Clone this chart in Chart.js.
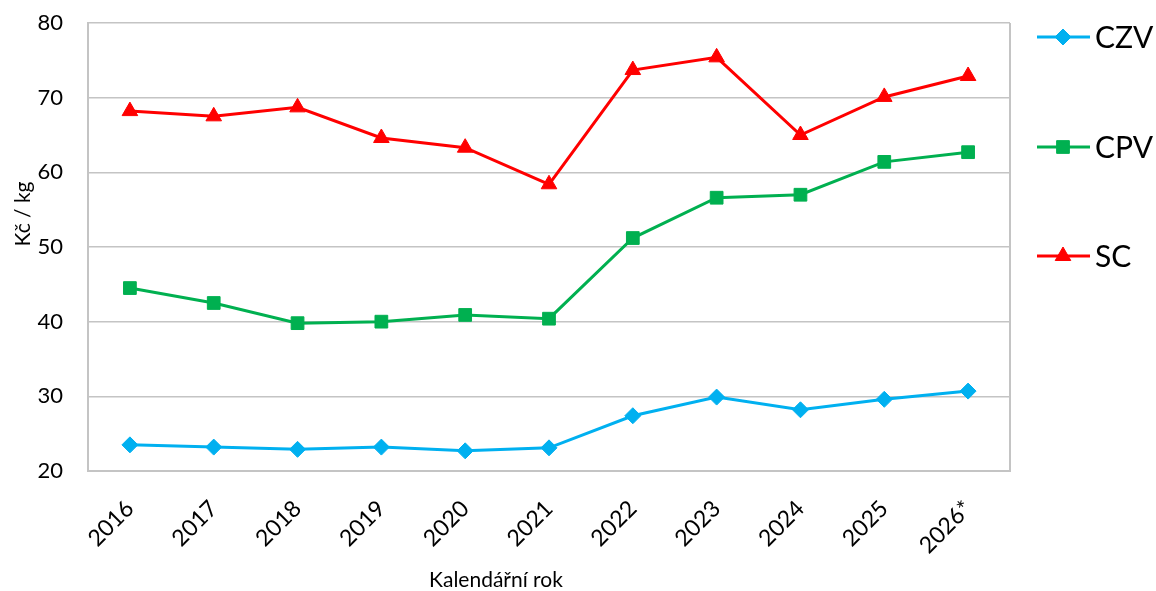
<!DOCTYPE html>
<html>
<head>
<meta charset="utf-8">
<script src="https://cdn.jsdelivr.net/npm/chart.js@4"></script>
<style>
  html, body { margin: 0; padding: 0; background: #fff; }
  #wrap { width: 1156px; height: 591px; }
</style>
</head>
<body>
<div id="wrap"><canvas id="chart"></canvas></div>
<script>
// Data
const years = ['2016', '2017', '2018', '2019', '2020', '2021', '2022', '2023', '2024', '2025', '2026*'];
const czv = [23.5, 23.2, 22.9, 23.2, 22.7, 23.1, 27.4, 29.9, 28.2, 29.6, 30.7];
const cpv = [44.5, 42.5, 39.8, 40.0, 40.9, 40.4, 51.2, 56.6, 57.0, 61.4, 62.7];
const sc = [68.2, 67.5, 68.7, 64.6, 63.3, 58.4, 73.7, 75.4, 65.0, 70.1, 72.9];
const yTicks = [20, 30, 40, 50, 60, 70, 80];

const FONT = 'Lato, "Open Sans", sans-serif';
const gridColor = '#c4c4c4';

// Plot frame, axis titles and the spaced-out legend on the right
const extras = {
    id: 'extras',
    afterDraw(chart) {
        const ctx = chart.ctx;
        const a = chart.chartArea;
        ctx.save();

        // right edge of the plot frame
        ctx.strokeStyle = gridColor;
        ctx.lineWidth = 2;
        ctx.beginPath();
        ctx.moveTo(a.right, a.top);
        ctx.lineTo(a.right, a.bottom);
        ctx.stroke();

        // axis titles
        ctx.fillStyle = '#000';
        ctx.font = '21px ' + FONT;
        ctx.textAlign = 'center';
        ctx.textBaseline = 'middle';
        ctx.fillText('Kalendářní rok', 496, 580);
        ctx.translate(23, 214);
        ctx.rotate(-Math.PI / 2);
        ctx.fillText('Kč / kg', 0, 0);
        ctx.setTransform(1, 0, 0, 1, 0, 0);

        // legend
        const rows = [37, 147, 256];
        chart.data.datasets.forEach((ds, i) => {
            const y = rows[i];
            ctx.strokeStyle = ds.borderColor;
            ctx.lineWidth = 3;
            ctx.beginPath();
            ctx.moveTo(1037, y);
            ctx.lineTo(1090, y);
            ctx.stroke();
            ctx.fillStyle = ds.backgroundColor;
            ctx.lineWidth = 1;
            Chart.helpers.drawPoint(ctx, {
                pointStyle: ds.pointStyle,
                radius: ds.pointRadius,
                rotation: 0,
                borderWidth: 1
            }, 1063, y);
            ctx.fillStyle = '#000';
            ctx.font = '30px ' + FONT;
            ctx.textAlign = 'left';
            ctx.textBaseline = 'middle';
            ctx.fillText(ds.label, 1095, y + 1);
        });
        ctx.restore();
    }
};

new Chart(document.getElementById('chart'), {
    type: 'line',
    data: {
        labels: years,
        datasets: [{
            label: 'CZV',
            data: czv,
            borderColor: '#00b0f0',
            backgroundColor: '#00b0f0',
            borderWidth: 3,
            pointStyle: 'rectRot',
            pointRadius: 8,
            pointBorderWidth: 1
        }, {
            label: 'CPV',
            data: cpv,
            borderColor: '#00b050',
            backgroundColor: '#00b050',
            borderWidth: 3,
            pointStyle: 'rect',
            pointRadius: 9,
            pointBorderWidth: 1
        }, {
            label: 'SC',
            data: sc,
            borderColor: '#ff0000',
            backgroundColor: '#ff0000',
            borderWidth: 3,
            pointStyle: 'triangle',
            pointRadius: 9,
            pointBorderWidth: 1
        }]
    },
    options: {
        responsive: true,
        maintainAspectRatio: false,
        animation: false,
        layout: { padding: { top: 23, right: 146, left: 0, bottom: 0 } },
        plugins: {
            legend: { display: false },
            tooltip: { enabled: false }
        },
        scales: {
            x: {
                offset: true,
                grid: { display: false, drawTicks: false },
                border: { display: true, color: gridColor, width: 2 },
                ticks: {
                    color: '#000',
                    font: { family: FONT, size: 23 },
                    minRotation: 45,
                    maxRotation: 45,
                    padding: 24
                },
                afterFit(scale) { scale.height = 120; }
            },
            y: {
                min: 20,
                max: 80,
                afterBuildTicks(scale) { scale.ticks = yTicks.map(v => ({ value: v })); },
                // invisible tick marks give the label gap without adding top padding
                grid: { color: gridColor, lineWidth: 1.5, drawTicks: true, tickLength: 25, tickColor: 'rgba(0,0,0,0)' },
                border: { display: true, color: gridColor, width: 2 },
                ticks: {
                    color: '#000',
                    font: { family: FONT, size: 22 },
                    padding: 0
                },
                afterFit(scale) { scale.width = 88; }
            }
        }
    },
    plugins: [extras]
});
</script>
</body>
</html>
